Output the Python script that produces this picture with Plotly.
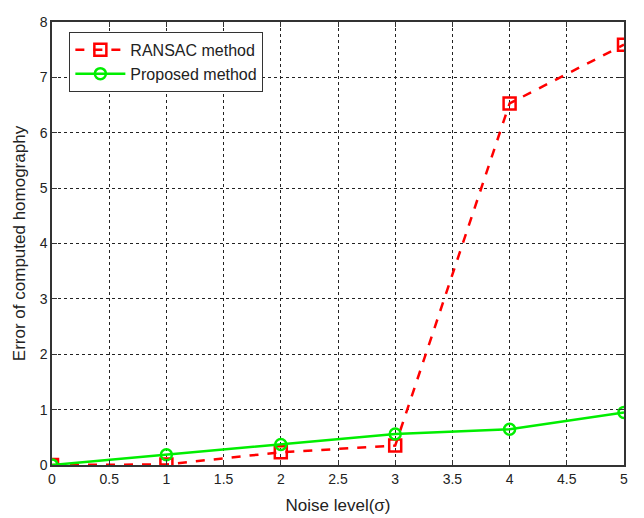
import plotly.graph_objects as go

noise = [0, 1, 2, 3, 4, 5]
ransac = [0.0, 0.01, 0.23, 0.35, 6.53, 7.59]
proposed = [0.0, 0.185, 0.37, 0.56, 0.645, 0.95]
xticks = [0, 0.5, 1, 1.5, 2, 2.5, 3, 3.5, 4, 4.5, 5]
xticklabels = ["0", "0.5", "1", "1.5", "2", "2.5", "3", "3.5", "4", "4.5", "5"]
yticks = [0, 1, 2, 3, 4, 5, 6, 7, 8]

fig = go.Figure()
fig.add_trace(go.Scatter(
    x=noise, y=ransac, mode="lines+markers", name="RANSAC method",
    line=dict(color="#ff0000", width=2.5, dash="dash"),
    marker=dict(symbol="square-open", size=12, color="#ff0000", line=dict(width=2.5)),
))
fig.add_trace(go.Scatter(
    x=noise, y=proposed, mode="lines+markers", name="Proposed method",
    line=dict(color="#00ee00", width=2.5),
    marker=dict(symbol="circle-open", size=11, color="#00ee00", line=dict(width=2.5)),
))

axis_common = dict(
    showline=True, linecolor="#333333", linewidth=1.5, mirror="ticks",
    ticks="inside", ticklen=5, tickcolor="#333333",
    showgrid=True, gridcolor="#222222", griddash="3px,3px", gridwidth=1.2,
    zeroline=False, ticklabeloverflow="allow",
    tickfont=dict(family="Liberation Sans, Arial", size=14, color="#222222"),
)

fig.update_layout(
    width=636, height=510,
    margin=dict(l=44, r=20, t=6, b=52),
    paper_bgcolor="white", plot_bgcolor="white",
    font=dict(family="Liberation Sans, Arial", size=14, color="#222222"),
    xaxis=dict(range=[0, 5], tickvals=xticks, ticktext=xticklabels,
               title=dict(text="Noise level(σ)", standoff=14), **axis_common),
    yaxis=dict(range=[0, 8], tickvals=yticks,
               title=dict(text="Error of computed homography", standoff=10), **axis_common),
    legend=dict(x=0.03, y=0.978, xanchor="left", yanchor="top",
                bgcolor="white", bordercolor="#333333", borderwidth=1.2,
                font=dict(size=16), tracegroupgap=0, itemwidth=50),
    showlegend=True,
)

fig.write_html("out.html")
